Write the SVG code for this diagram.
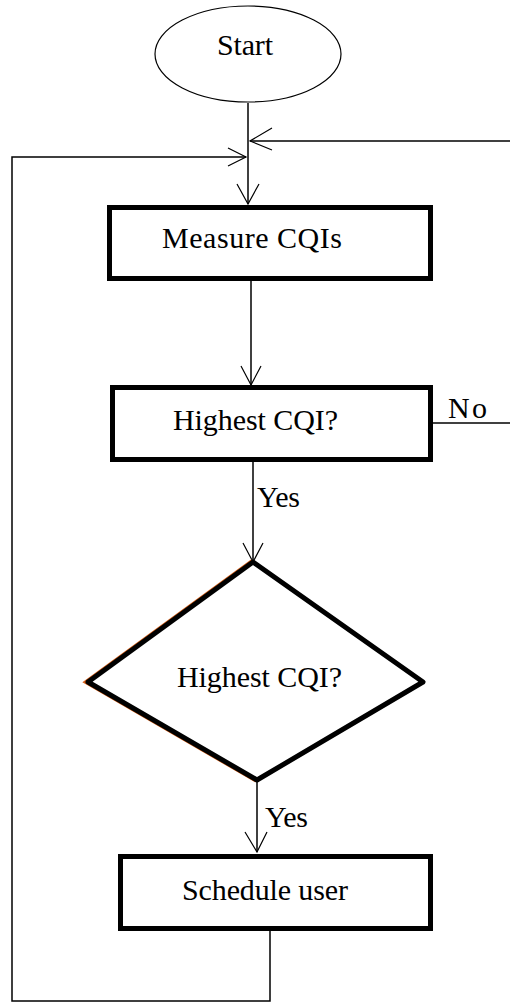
<svg xmlns="http://www.w3.org/2000/svg" width="510" height="1003" viewBox="0 0 510 1003">
<style>
.box{fill:#fff;stroke:#000;stroke-width:5}
.ln{fill:none;stroke:#000;stroke-width:1.5}
.ah{fill:none;stroke:#000;stroke-width:1.2}
.t{font-family:"Liberation Serif","Times New Roman",serif;font-size:30px;fill:#000}
</style>
<rect width="510" height="1003" fill="#fff"/>
<g id="connectors">
<line class="ln" x1="248" y1="103" x2="248" y2="204"/>
<polyline class="ah" points="237,184 248,204 259,184"/>
<polyline class="ln" points="510,141 250,141"/>
<polyline class="ah" points="272,128 250,141 272,150"/>
<polyline class="ln" points="270,931 270,1001 12,1001 12,157 246,157"/>
<polyline class="ah" points="228,148 246,157 228,166"/>
<line class="ln" x1="251" y1="281" x2="251" y2="385"/>
<polyline class="ah" points="241,366 251,385 261,366"/>
<line class="ln" x1="433" y1="423" x2="510" y2="423"/>
<text class="t" x="448" y="418" textLength="39">No</text>
<line class="ln" x1="253" y1="462" x2="253" y2="562"/>
<polyline class="ah" points="243,543 253,562 263,543"/>
<text class="t" x="257" y="507" textLength="43">Yes</text>
<line class="ln" x1="257" y1="780" x2="257" y2="852" stroke-width="2"/>
<polyline class="ah" points="245,832 257,852 267,832"/>
<text class="t" x="265" y="827" textLength="43">Yes</text>
</g>
<g id="start">
<ellipse cx="248" cy="54" rx="93" ry="48" fill="#fff" stroke="#000" stroke-width="1.2"/>
<text class="t" x="217" y="55" textLength="56">Start</text>
</g>
<g id="measure">
<rect class="box" x="109.5" y="207.5" width="321" height="71"/>
<text class="t" x="162" y="248" textLength="180">Measure CQIs</text>
</g>
<g id="highest1">
<rect class="box" x="112.5" y="387.5" width="318" height="72"/>
<text class="t" x="173" y="430" textLength="165">Highest CQI?</text>
</g>
<g id="decision">
<polygon points="253,562 423,682 257,780 88,682" fill="none" stroke="#d86018" stroke-width="4" transform="translate(-2,0)"/>
<polygon points="253,562 423,682 257,780 88,682" fill="#fff" stroke="#000" stroke-width="5" stroke-linejoin="round"/>
<text class="t" x="177" y="687" textLength="165">Highest CQI?</text>
</g>
<g id="schedule">
<rect class="box" x="120.5" y="856.5" width="310" height="72"/>
<text class="t" x="182" y="900" textLength="166">Schedule user</text>
</g>
</svg>
